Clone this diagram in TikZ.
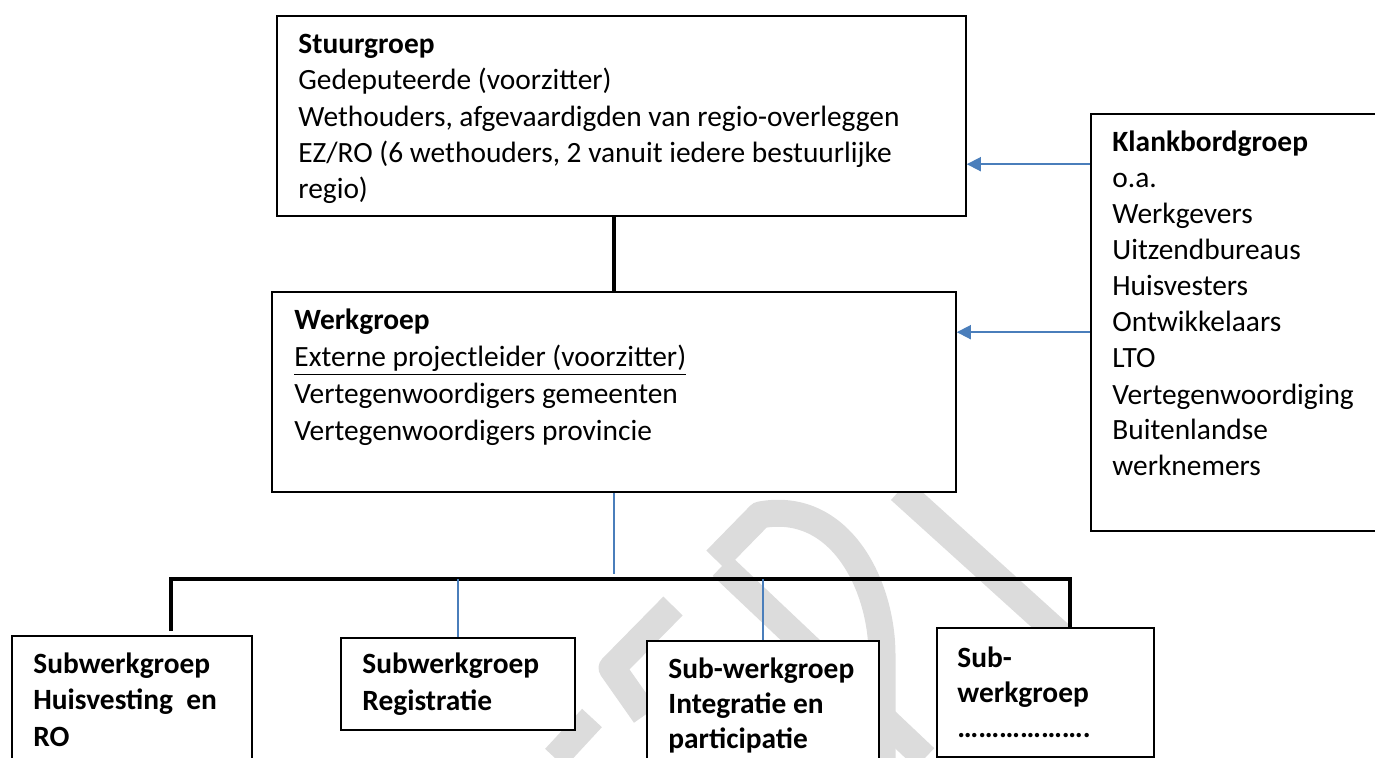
\documentclass[tikz,border=0pt]{standalone}
\usepackage{fontspec}
\setmainfont{Carlito}
\usetikzlibrary{arrows.meta, fit}

\definecolor{lineblue}{RGB}{74,126,187}
\definecolor{markgray}{RGB}{220,220,220}

\tikzset{
  box/.style={draw, fill=white, line width=0.8pt, inner sep=0pt},
  txt/.style={anchor=base west, inner sep=0pt, align=left,
    font=\fontsize{14.7pt}{18.2pt}\selectfont},
  boldtxt/.style={txt, font=\bfseries\fontsize{14.7pt}{18.2pt}\selectfont},
  thickline/.style={line width=1.8pt},
  thinline/.style={lineblue, line width=0.65pt},
  arr/.style={lineblue, line width=0.9pt, -{Triangle[length=7pt, width=7pt]}},
  watermark/.style={markgray, line width=13.5pt, line join=round}
}

\begin{document}
\begin{tikzpicture}[x=0.5pt, y=-0.5pt]
    \useasboundingbox (0,0) rectangle (1375,758);
    \clip (0,0) rectangle (1375,758);

    % Watermark in the background
    \draw[watermark] (673,606) -- (612,668) -- (645,715);
    \draw[watermark] (592,718) -- (555,758);
    \draw[watermark] (716,560) -- (760,515) .. controls (840,500) and (882,585) .. (882,655) -- (882,758);
    \draw[watermark] (722,566) -- (925,758);
    \draw[watermark] (900,490) -- (1110,680);

    % Boxes
    \node[box, fit={(277,16) (966,216)}] (stuur) {};
    \node[box, fit={(272,292) (956,492)}] (werk) {};
    \node[box, fit={(1091,114) (1390,531)}] (klank) {};
    \node[box, fit={(12,636) (252,775)}] (sub1) {};
    \node[box, fit={(341,638) (575,730)}] (sub2) {};
    \node[box, fit={(647,641) (879,775)}] (sub3) {};
    \node[box, fit={(937,628) (1154,757)}] (sub4) {};

    % Texts (placed at the baseline of their last line)
    \node[txt] (stuurtxt) at (298,199) {\textbf{Stuurgroep}\\
      Gedeputeerde (voorzitter)\\
      Wethouders, afgevaardigden van regio-overleggen\\
      EZ/RO (6 wethouders, 2 vanuit iedere bestuurlijke\\
      regio)};
    \node[txt, font=\fontsize{14.7pt}{18.5pt}\selectfont] (werktxt) at (294,441) {\textbf{Werkgroep}\\
      \underline{Externe projectleider (voorzitter)}\\
      Vertegenwoordigers gemeenten\\
      Vertegenwoordigers provincie};
    \node[txt, font=\fontsize{14.7pt}{18pt}\selectfont] (klanktxt) at (1112,476) {\textbf{Klankbordgroep}\\
      o.a.\\ Werkgevers\\ Uitzendbureaus\\ Huisvesters\\ Ontwikkelaars\\ LTO\\
      Vertegenwoordiging\\ Buitenlandse\\ werknemers};
    \node[boldtxt] (sub1txt) at (33,746) {Subwerkgroep\\ Huisvesting\ \ en\\ RO};
    \node[boldtxt] (sub2txt) at (362,710) {Subwerkgroep\\ Registratie};
    \node[boldtxt, font=\bfseries\fontsize{14.7pt}{17.5pt}\selectfont] (sub3txt) at (668,748) {Sub-werkgroep\\ Integratie en\\ participatie};
    \node[boldtxt, font=\bfseries\fontsize{14.7pt}{17.5pt}\selectfont] (sub4txt) at (957,737) {Sub-\\ werkgroep\\ ……………….};

    % Connections
    \draw[thickline] (werk.north |- stuur.south) -- (werk.north);
    \coordinate (hub) at (614,574);
    \draw[thinline] (hub |- werk.south) -- (hub);

    \coordinate (busL) at (171,579);
    \coordinate (busR) at (1070,579);
    \draw[thickline] ([yshift=2pt]busL |- sub1.north) -- (busL) -- (busR) -- (busR |- sub4.north);
    \draw[thinline] (sub2.north) -- (sub2.north |- busL);
    \draw[thinline] (sub3.north) -- (sub3.north |- busL);

    % Feedback arrows
    \coordinate (k1) at ([yshift=-25.5pt]klank.north west);
    \coordinate (k2) at ([yshift=-109.5pt]klank.north west);
    \draw[arr] (k1) -- (k1 -| stuur.east);
    \draw[arr] (k2) -- (k2 -| werk.east);
\end{tikzpicture}
\end{document}
